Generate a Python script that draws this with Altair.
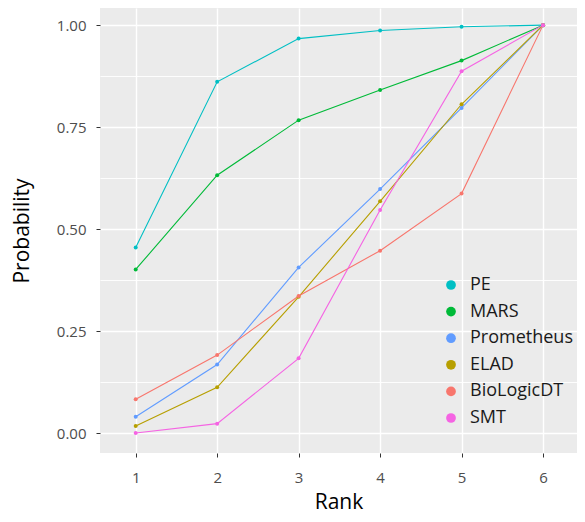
import altair as alt
import pandas as pd

ranks = [1, 2, 3, 4, 5, 6]
series_names = ["PE", "MARS", "Prometheus", "ELAD", "BioLogicDT", "SMT"]
series_colors = ["#00BFC4", "#00BA38", "#619CFF", "#B79F00", "#F8766D", "#F564E3"]

pe = [0.455, 0.861, 0.967, 0.987, 0.996, 1.0]
mars = [0.401, 0.632, 0.767, 0.841, 0.913, 1.0]
prometheus = [0.040, 0.168, 0.406, 0.598, 0.797, 1.0]
elad = [0.017, 0.112, 0.334, 0.568, 0.806, 1.0]
biologicdt = [0.083, 0.191, 0.336, 0.447, 0.587, 1.0]
smt = [0.0, 0.023, 0.183, 0.547, 0.887, 1.0]

y_ticks = [0.0, 0.25, 0.5, 0.75, 1.0]
y_minor = [0.125, 0.375, 0.625, 0.875]

values = [pe, mars, prometheus, elad, biologicdt, smt]
rows = []
for name, vals in zip(series_names, values):
    for r, v in zip(ranks, vals):
        rows.append({"Model": name, "Rank": r, "Probability": v})
df = pd.DataFrame(rows)

legend_df = pd.DataFrame({"Model": series_names, "slot": list(range(len(series_names)))})

x_scale = alt.Scale(domain=[0.5617, 6.417], nice=False, zero=False)
y_scale = alt.Scale(domain=[-0.049, 1.042], nice=False, zero=False)
color_scale = alt.Scale(domain=series_names, range=series_colors)

x_enc = alt.X(
    "Rank:Q",
    scale=x_scale,
    axis=alt.Axis(values=ranks, format="d", title="Rank", tickSize=4, grid=True,
                  labelPadding=13, titlePadding=6),
)
y_main = alt.Y(
    "Probability:Q",
    scale=y_scale,
    axis=alt.Axis(values=y_ticks, format=".2f", title="Probability", tickSize=4,
                  grid=True, labelPadding=10, titlePadding=24),
)
y_plain = alt.Y("Probability:Q", scale=y_scale, axis=None)

# minor horizontal gridlines from a label-less axis on the same domain
minor_grid = alt.Chart(df).mark_point(opacity=0).encode(
    x=x_enc,
    y=alt.Y(
        "Probability:Q",
        scale=y_scale,
        axis=alt.Axis(values=y_minor, orient="right", labels=False, ticks=False,
                      domain=False, title=None, grid=True, gridWidth=0.9),
    ),
)

lines = alt.Chart(df).mark_line(strokeWidth=1.1).encode(
    x=x_enc,
    y=y_plain,
    color=alt.Color("Model:N", scale=color_scale, legend=None),
    detail="Model:N",
    order=alt.Order("Rank:Q"),
)

points = alt.Chart(df).mark_circle(size=16, opacity=1).encode(
    x=x_enc,
    y=y_main,
    color=alt.Color("Model:N", scale=color_scale, legend=None),
)

# legend drawn inside the panel, bottom right
slot_y = alt.Y("slot:Q", scale=alt.Scale(domain=[0, 5], range=[277, 410]), axis=None)
legend_dots = alt.Chart(legend_df).mark_circle(size=95, opacity=1).encode(
    x=alt.value(351),
    y=slot_y,
    color=alt.Color("Model:N", scale=color_scale, legend=None),
)
legend_text = alt.Chart(legend_df).mark_text(
    align="left", baseline="middle", fontSize=18, font="Open Sans", color="#1A1A1A"
).encode(
    x=alt.value(370),
    y=slot_y,
    text="Model:N",
)

chart = (
    alt.layer(minor_grid, lines, points, legend_dots, legend_text)
    .resolve_scale(y="independent")
    .properties(
        width=477,
        height=445,
        autosize=alt.AutoSizeParams(type="none"),
        padding={"left": 92, "top": 0, "right": 0, "bottom": 61},
    )
    .configure_view(fill="#EBEBEB", stroke=None)
    .configure_axis(
        gridColor="#FFFFFF",
        gridWidth=1.4,
        domain=False,
        tickColor="#333333",
        labelFont="Open Sans",
        labelFontSize=15,
        labelColor="#4D4D4D",
        titleFont="Open Sans",
        titleFontSize=21,
        titleFontWeight="normal",
        titleColor="#000000",
    )
)

chart.save("out.html", embed_options={"renderer": "svg", "actions": False})
